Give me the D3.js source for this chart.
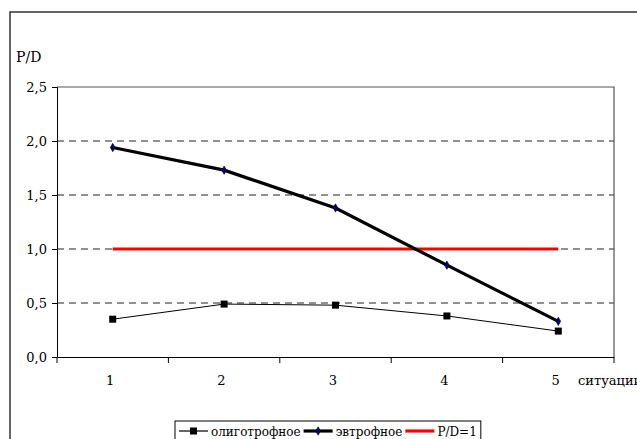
<!DOCTYPE html>
<html>
<head>
<meta charset="utf-8">
<script src="https://cdn.jsdelivr.net/npm/d3@7"></script>
<style>
  body { margin: 0; background: #fff; }
  svg text { font-family: 'DejaVu Serif', serif !important; }
</style>
</head>
<body>
<div id="chart"></div>
<script>
// situations on the x axis
const categories = ['1', '2', '3', '4', '5'];
// P/D values
const oligo = [0.35, 0.49, 0.48, 0.38, 0.24];
const eutro = [1.94, 1.73, 1.38, 0.85, 0.33];
const reference = [1, 1, 1, 1, 1];
const yTicks = [0, 0.5, 1, 1.5, 2, 2.5];
const seriesNames = ['олиготрофное', 'эвтрофное', 'P/D=1'];

const width = 637, height = 439;
const plotLeft = 57, plotRight = 614, plotTop = 87, plotBottom = 357;

const svg = d3.select('#chart').append('svg')
  .attr('width', width)
  .attr('height', height);

// outer frame (runs past the window on the right and bottom)
svg.append('rect')
  .attr('x', 10).attr('y', 12)
  .attr('width', 700).attr('height', 500)
  .attr('fill', 'none')
  .attr('stroke', '#333')
  .attr('stroke-width', 1.5);

const x = d3.scaleBand().domain(categories).range([plotLeft, plotRight]);
const y = d3.scaleLinear().domain([0, 2.5]).range([plotBottom, plotTop]);
const fmt = d => d.toFixed(1).replace('.', ',');

// grid lines
svg.append('g')
  .selectAll('line')
  .data(yTicks.filter(d => d > 0 && d < 2.5))
  .join('line')
  .attr('x1', plotLeft).attr('x2', plotRight)
  .attr('y1', d => y(d)).attr('y2', d => y(d))
  .attr('stroke', '#222')
  .attr('stroke-dasharray', '7,5');

// plot border (top and right)
svg.append('path')
  .attr('d', `M${plotLeft},${plotTop}H${plotRight}V${plotBottom}`)
  .attr('fill', 'none')
  .attr('stroke', '#555')
  .attr('stroke-width', 1.2);

// y axis
const yAxis = svg.append('g')
  .attr('transform', `translate(${plotLeft},0)`)
  .call(d3.axisLeft(y).tickValues(yTicks).tickFormat(fmt).tickSize(5).tickPadding(5));
yAxis.attr('font-size', 13);
yAxis.select('.domain').attr('stroke', '#000');
yAxis.selectAll('text').attr('fill', '#000');

// x axis, ticks between the categories
const xAxis = svg.append('g')
  .attr('transform', `translate(0,${plotBottom})`)
  .call(d3.axisBottom(x).tickSize(0).tickPadding(19));
xAxis.attr('font-size', 13);
xAxis.select('.domain').attr('stroke', '#000');
xAxis.selectAll('text').attr('fill', '#000').attr('dx', '-0.2em');
xAxis.selectAll('.sep')
  .data(categories.map(c => x(c)).concat([plotRight]))
  .join('line')
  .attr('class', 'sep')
  .attr('x1', d => d).attr('x2', d => d)
  .attr('y1', 0).attr('y2', 6)
  .attr('stroke', '#000');

// axis titles
svg.append('text').attr('x', 16).attr('y', 62).attr('font-size', 14).text('P/D');
svg.append('text').attr('x', 578).attr('y', 385).attr('font-size', 13).text('ситуации');

const cx = i => x(categories[i]) + x.bandwidth() / 2;
const line = d3.line().x((d, i) => cx(i)).y(d => y(d));

// P/D = 1
svg.append('path')
  .attr('d', line(reference))
  .attr('fill', 'none')
  .attr('stroke', '#ff0000')
  .attr('stroke-width', 3);

// oligotrophic
svg.append('path')
  .attr('d', line(oligo))
  .attr('fill', 'none')
  .attr('stroke', '#000')
  .attr('stroke-width', 1);
svg.append('g').selectAll('rect')
  .data(oligo)
  .join('rect')
  .attr('x', (d, i) => cx(i) - 3.5)
  .attr('y', d => y(d) - 3.5)
  .attr('width', 7).attr('height', 7)
  .attr('fill', '#000');

// eutrophic
svg.append('path')
  .attr('d', line(eutro))
  .attr('fill', 'none')
  .attr('stroke', '#000')
  .attr('stroke-width', 3.2);
const diamond = d3.symbol().type(d3.symbolDiamond).size(20);
svg.append('g').selectAll('path')
  .data(eutro)
  .join('path')
  .attr('d', diamond)
  .attr('transform', (d, i) => `translate(${cx(i)},${y(d)})`)
  .attr('fill', '#000080')
  .attr('stroke', '#000')
  .attr('stroke-width', 0.6);

// legend
const legend = svg.append('g');
const lx0 = 175, ly = 421;
const legendBox = legend.append('rect')
  .attr('x', lx0).attr('y', ly)
  .attr('height', 30)
  .attr('fill', '#fff')
  .attr('stroke', '#000');
let lx = lx0 + 4;
const midY = ly + 10;
seriesNames.forEach((name, i) => {
  const g = legend.append('g');
  const color = i === 2 ? '#ff0000' : '#000';
  const sw = i === 0 ? 1.2 : 3.2;
  g.append('line')
    .attr('x1', lx).attr('x2', lx + 29)
    .attr('y1', midY).attr('y2', midY)
    .attr('stroke', color).attr('stroke-width', sw);
  if (i === 0) {
    g.append('rect').attr('x', lx + 11).attr('y', midY - 3.5)
      .attr('width', 7).attr('height', 7).attr('fill', '#000');
  } else if (i === 1) {
    g.append('path').attr('d', diamond)
      .attr('transform', `translate(${lx + 14.5},${midY})`)
      .attr('fill', '#000080').attr('stroke', '#000').attr('stroke-width', 0.6);
  }
  const t = g.append('text')
    .attr('x', lx + 32).attr('y', midY + 4.5)
    .attr('font-size', 12)
    .text(name);
  lx += 32 + t.node().getComputedTextLength() + 3;
});
legendBox.attr('width', lx - lx0 + 1);
</script>
</body>
</html>
